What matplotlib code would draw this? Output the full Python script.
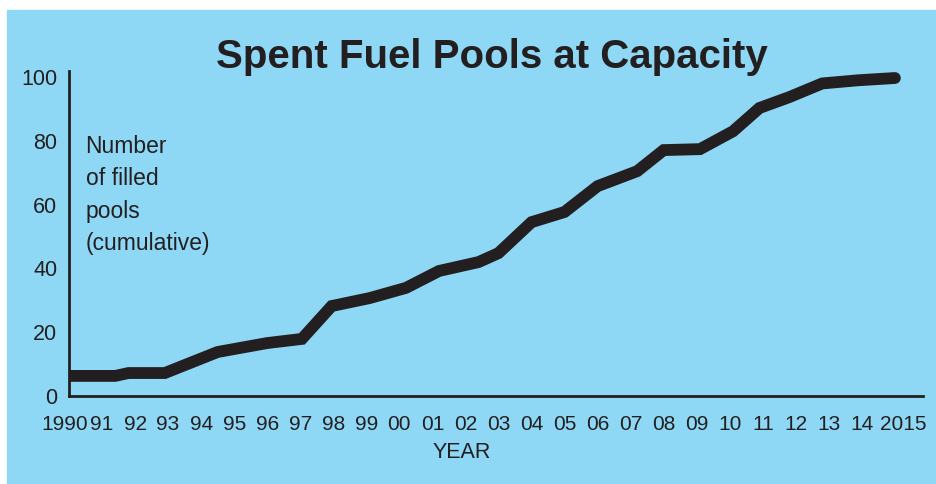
import matplotlib
matplotlib.use("Agg")
import matplotlib.pyplot as plt
from matplotlib.transforms import ScaledTranslation

# values
years = [1990.0, 1991.4, 1991.8, 1992.9, 1994.5, 1996.0, 1997.05, 1997.95,
         1999.1, 2000.2, 2001.2, 2002.4, 2003.0, 2004.0, 2005.0, 2006.0,
         2007.2, 2008.0, 2009.1, 2010.1, 2010.9, 2011.8, 2012.8, 2013.9, 2015.0]
pools = [6.3, 6.3, 7.2, 7.2, 13.8, 16.6, 17.9, 28.2,
         30.7, 33.9, 39.2, 42.0, 44.8, 54.5, 57.7, 65.8,
         70.5, 77.1, 77.4, 83.0, 90.3, 93.7, 98.0, 99.0, 99.7]

xticks = list(range(1990, 2016))
xlabels = ['1990'] + ['%02d' % (y % 100) for y in range(1991, 2015)] + ['2015']
yticks = [0, 20, 40, 60, 80, 100]

bg = '#8fd8f5'
ink = '#231f20'
sans = ['Liberation Sans', 'DejaVu Sans']

fig = plt.figure(figsize=(9.36, 4.84), dpi=100)
fig.patch.set_facecolor('white')
# blue panel
fig.patches.append(plt.Rectangle((7 / 936, 0), 1, 1 - 10 / 484,
                                 transform=fig.transFigure, color=bg, zorder=-10))

ax = fig.add_axes([69 / 936, 88 / 484, (923 - 69) / 936, (396 - 71) / 484])
ax.set_facecolor('none')
ax.plot(years, pools, color=ink, lw=8.5, solid_capstyle='round',
        solid_joinstyle='miter')

ax.set_xlim(1990, 2015.85)
ax.set_ylim(0, 101.9)
ax.spines['top'].set_visible(False)
ax.spines['right'].set_visible(False)
for s in ('left', 'bottom'):
    ax.spines[s].set_linewidth(2)
    ax.spines[s].set_color(ink)

ax.set_xticks(xticks)
ax.set_xticklabels(xlabels, family=sans, fontsize=15, color=ink)
ax.set_yticks(yticks)
ax.set_yticklabels([str(v) for v in yticks], family=sans, fontsize=15.5, color=ink)
ax.tick_params(axis='both', length=0)
ax.tick_params(axis='x', pad=14)
ax.tick_params(axis='y', pad=8.5)

# nudge the end labels outward like the original
lbls = ax.get_xticklabels()
lbls[0].set_transform(lbls[0].get_transform() +
                      ScaledTranslation(-4 / 100, 0, fig.dpi_scale_trans))
lbls[-1].set_transform(lbls[-1].get_transform() +
                       ScaledTranslation(8 / 100, 0, fig.dpi_scale_trans))

ax.text(1990.5, 81.8, 'Number\nof filled\npools\n(cumulative)', family=sans,
        fontsize=16.5, color=ink, va='top', ha='left', linespacing=1.52)

fig.text(462 / 936, 1 - 453 / 484, 'YEAR', family=sans, fontsize=15.5,
         color=ink, ha='center', va='center')
fig.text(492 / 936, 1 - 57 / 484, 'Spent Fuel Pools at Capacity',
         family=sans, fontweight='bold',
         fontsize=29, color=ink, ha='center', va='center')

fig.savefig('out.png', dpi=100, facecolor=fig.get_facecolor())
